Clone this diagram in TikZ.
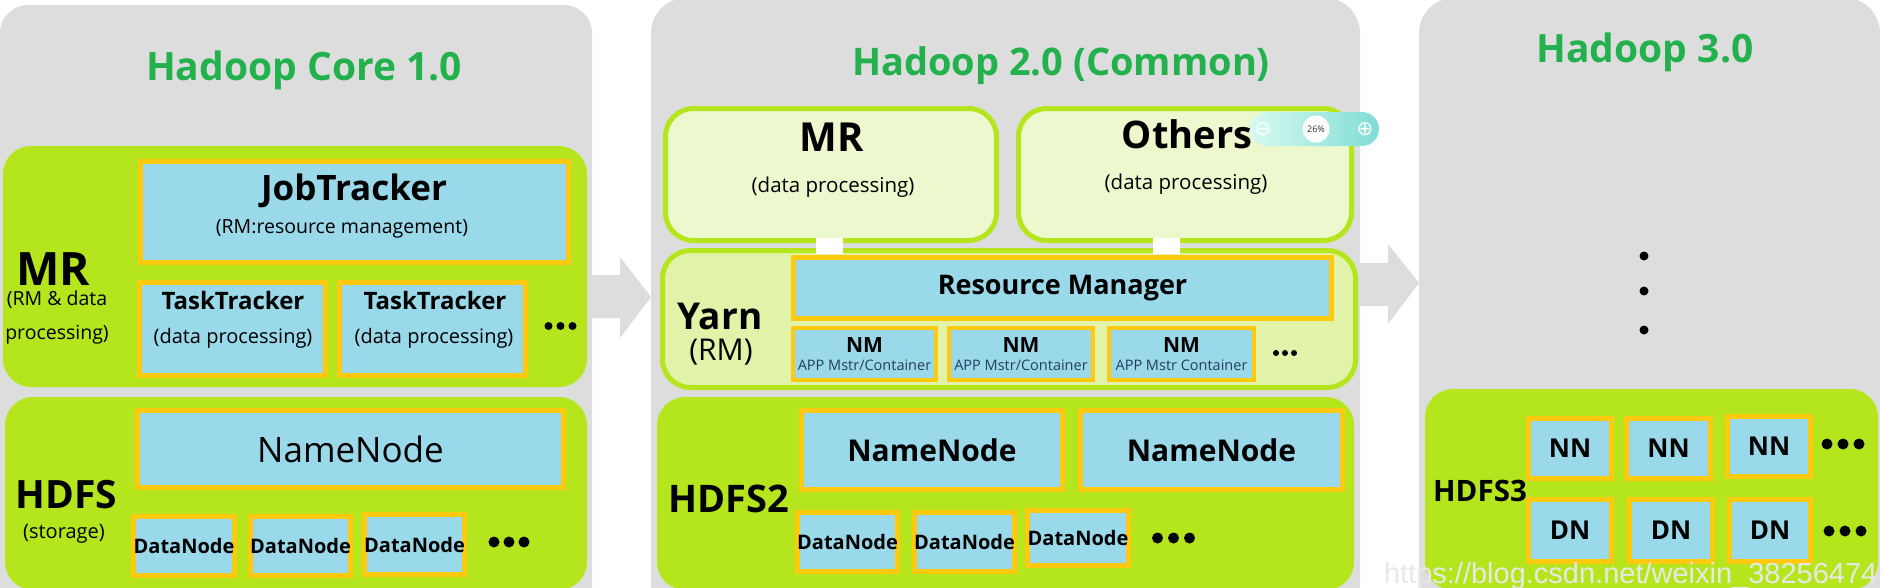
\documentclass[tikz,border=0pt]{standalone}
\usepackage{fontspec}
\setmainfont{Open Sans}
\newfontfamily\symfont{DejaVu Sans}
\newfontfamily\wmfont{Liberation Sans}
\definecolor{panelgray}{RGB}{221,221,221}
\definecolor{lime}{RGB}{181,230,29}
\definecolor{boxblue}{RGB}{153,217,234}
\definecolor{gold}{RGB}{255,201,14}
\definecolor{lightlime}{RGB}{237,248,206}
\definecolor{yarnfill}{RGB}{225,243,168}
\definecolor{titlegreen}{RGB}{34,177,76}
\definecolor{appblue}{RGB}{40,60,95}
\definecolor{zoomL}{RGB}{214,250,240}
\definecolor{zoomR}{RGB}{128,221,214}
\definecolor{wmgray}{RGB}{232,232,232}
\newcommand\fsz[1]{\fontsize{#1}{#1}\selectfont}
% name, style, line width, x1, y1, x2, y2, text
\newcommand\obox[8]{\node[#2, line width=#3pt, minimum width={(#6-#4-#3)*1pt}, minimum height={(#7-#5-#3)*1pt}] (#1) at ({(#4+#6)/2},{(#5+#7)/2}) {#8};}
\newcommand\dotsrow[5]{% x0, y, spacing, r, count
  \foreach \k in {1,...,#5}{\fill[black] ({#1+(\k-1)*#3},#2) circle[radius=#4];}}
\tikzset{
  graypanel/.style={fill=panelgray, rounded corners=28pt},
  graypanelb/.style={fill=panelgray, rounded corners=35pt},
  limepanel/.style={fill=lime, rounded corners=28pt},
  lightbox/.style={fill=lightlime, draw=lime, rounded corners=28pt},
  yarnbox/.style={fill=yarnfill, draw=lime, rounded corners=28pt},
  bbox/.style={fill=boxblue, draw=gold, align=center},
  sqr/.style={fill=white},
  title/.style={anchor=base, text=titlegreen, font=\fsz{39}\bfseries},
  lbl/.style={anchor=base},
  blockarrow/.style={fill=panelgray}
}
\begin{document}
\begin{tikzpicture}[x=1pt,y=-1pt, every node/.style={inner sep=0pt, outer sep=0pt}]
\useasboundingbox (0,0) rectangle (1882,587);
\clip (0,0) rectangle (1882,587);
% ---------- panels
\obox{p1}{graypanel}{0}{0}{5}{592}{620}{}
\obox{p2}{graypanelb}{0}{651}{-2}{1360}{620}{}
\obox{p3}{graypanelb}{0}{1419}{-2}{1880}{620}{}
% ---------- block arrows
\fill[blockarrow] (p1.east |- 0,275) -- (620,275) -- (620,257) -- (p2.west |- 0,297) -- (620,338) -- (620,318) -- (p1.east |- 0,318) -- cycle;
\fill[blockarrow] (p2.east |- 0,263) -- (1388,263) -- (1388,244) -- (p3.west |- 0,283) -- (1388,324) -- (1388,306) -- (p2.east |- 0,306) -- cycle;
% ---------- titles
\node[title] (t1) at (304,80) {Hadoop Core 1.0};
\node[title, font=\fsz{38}\bfseries] (t2) at (1061,75) {Hadoop 2.0 (Common)};
\node[title] (t3) at (1645,62) {Hadoop 3.0};
% ========== Hadoop 1.0
\obox{mr1}{limepanel}{0}{3}{146}{587}{387}{}
\obox{hdfs1}{limepanel}{0}{5}{397}{587}{590}{}
\obox{jt}{bbox}{5}{138}{159}{571}{265}{}
\node[lbl, font=\fsz{35}\bfseries] (jtT) at (354,200) {JobTracker};
\node[lbl, font=\fsz{19.5}] (jtS) at (342,233) {(RM:resource management)};
\node[lbl, font=\fsz{46}\bfseries, text depth=0pt] (mrT) at (53,285) {MR};
\node[lbl, font=\fsz{19.5}] (mrS1) at (57,305) {(RM \& data};
\node[lbl, font=\fsz{19.5}] (mrS2) at (57,339) {processing)};
\obox{tt1}{bbox}{5}{137}{280}{328}{378}{}
\obox{tt2}{bbox}{5}{337}{280}{528}{378}{}
\node[lbl, font=\fsz{24}\bfseries] (tt1T) at (233,309) {TaskTracker};
\node[lbl, font=\fsz{20}] (tt1S) at (233,343) {(data processing)};
\node[lbl, font=\fsz{24}\bfseries] (tt2T) at (435,309) {TaskTracker};
\node[lbl, font=\fsz{20}] (tt2S) at (434,343) {(data processing)};
\dotsrow{548.5}{326}{12}{4}{3}
\obox{nn1}{bbox}{5}{135}{408}{566}{490}{\fsz{35}NameNode}
\node[lbl, font=\fsz{39}\bfseries] (hdfsT) at (66.5,508) {HDFS};
\node[lbl, font=\fsz{20}] (hdfsS) at (64,538) {(storage)};
\obox{dn1a}{bbox}{5}{133}{514}{235}{578}{\fsz{20}\bfseries DataNode}
\obox{dn1b}{bbox}{5}{249}{514}{352}{578}{\fsz{20}\bfseries DataNode}
\obox{dn1c}{bbox}{5}{363}{512}{466}{577}{\fsz{20}\bfseries DataNode}
\dotsrow{494}{542}{15}{5.5}{3}
% ========== Hadoop 2.0
\obox{mr2}{lightbox}{5}{663}{106}{999}{243}{}
\obox{oth}{lightbox}{5}{1016}{106}{1354}{243}{}
\node[lbl, font=\fsz{40}\bfseries] (mr2T) at (832,151) {MR};
\node[lbl, font=\fsz{20.5}] (mr2S) at (833,192) {(data processing)};
\node[lbl, font=\fsz{38}\bfseries] (othT) at (1187,148) {Others};
\node[lbl, font=\fsz{20.5}] (othS) at (1186,189) {(data processing)};
\obox{yarn}{yarnbox}{5}{660}{248}{1358}{390}{}
\obox{sq1}{sqr}{0}{816}{238}{843}{254}{}
\obox{sq2}{sqr}{0}{1153}{238}{1180}{254}{}
\node[lbl, font=\fsz{37}\bfseries] (yarnT) at (720,329) {Yarn};
\node[lbl, font=\fsz{30}] (yarnS) at (721,360) {(RM)};
\obox{rm}{bbox}{5}{791}{255}{1334}{321}{\fsz{27}\bfseries Resource Manager}
\obox{nm1}{bbox}{4}{791}{326}{938}{382}{}
\obox{nm2}{bbox}{4}{947}{326}{1095}{382}{}
\obox{nm3}{bbox}{4}{1107}{326}{1256}{382}{}
\node[lbl, font=\fsz{21}\bfseries] (nm1T) at (864.5,352) {NM};
\node[lbl, font=\fsz{21}\bfseries] (nm2T) at (1021,352) {NM};
\node[lbl, font=\fsz{21}\bfseries] (nm3T) at (1181.5,352) {NM};
\node[lbl, font=\fsz{14.5}, text=appblue] (nm1S) at (864.5,370) {APP Mstr/Container};
\node[lbl, font=\fsz{14.5}, text=appblue] (nm2S) at (1021,370) {APP Mstr/Container};
\node[lbl, font=\fsz{14.5}, text=appblue] (nm3S) at (1181.5,370) {APP Mstr Container};
\dotsrow{1276}{353}{9}{3}{3}
\obox{hdfs2}{limepanel}{0}{657}{397}{1354}{590}{}
\obox{nn2a}{bbox}{5}{799}{408}{1065}{492}{\fsz{30}\bfseries NameNode}
\obox{nn2b}{bbox}{5}{1078}{408}{1345}{492}{\fsz{30}\bfseries NameNode}
\node[lbl, font=\fsz{38}\bfseries] (hdfs2T) at (729,512) {HDFS2};
\obox{dn2a}{bbox}{5}{796}{510}{899}{574}{\fsz{20}\bfseries DataNode}
\obox{dn2b}{bbox}{5}{913}{510}{1016}{574}{\fsz{20}\bfseries DataNode}
\obox{dn2c}{bbox}{5}{1027}{508}{1129}{568}{\fsz{20}\bfseries DataNode}
\dotsrow{1157.5}{538}{16}{5.5}{3}
% zoom widget
\node[minimum width=129pt, minimum height=34pt, rounded corners=17pt, left color=zoomL, right color=zoomR] (zoomctl) at (1314.5,129) {};
\node[text=white, font=\symfont\fsz{20}] (zminus) at (1263,129) {⊖};
\node[circle, fill=white, minimum size=27pt, font=\fsz{9}, text=black!80] (zpct) at (1316,129) {26\%};
\node[text=white, font=\symfont\fsz{20}] (zplus) at (1365,129) {⊕};
% ========== Hadoop 3.0
\foreach \yy in {256,291,330}{\fill[black] (1644,\yy) circle[radius=4.5];}
\obox{hdfs3}{limepanel}{0}{1425}{389}{1878}{590}{}
\node[lbl, font=\fsz{29.5}\bfseries] (hdfs3T) at (1480,501) {HDFS3};
\obox{nn3a}{bbox}{5}{1526}{416}{1614}{481}{\fsz{26}\bfseries NN}
\obox{nn3b}{bbox}{5}{1624}{416}{1713}{481}{\fsz{26}\bfseries NN}
\obox{nn3c}{bbox}{5}{1725}{414}{1813}{479}{\fsz{26}\bfseries NN}
\obox{dn3a}{bbox}{5}{1526}{497}{1614}{564}{\fsz{26}\bfseries DN}
\obox{dn3b}{bbox}{5}{1627}{497}{1715}{564}{\fsz{26}\bfseries DN}
\obox{dn3c}{bbox}{5}{1727}{497}{1813}{564}{\fsz{26}\bfseries DN}
\dotsrow{1827}{444}{16}{5.5}{3}
\dotsrow{1829}{531}{16}{5.5}{3}
% watermark
\node[anchor=base west, text=wmgray, font=\wmfont\fsz{29}] (wm) at (1384,583) {https://blog.csdn.net/weixin\_38256474};
\end{tikzpicture}
\end{document}
